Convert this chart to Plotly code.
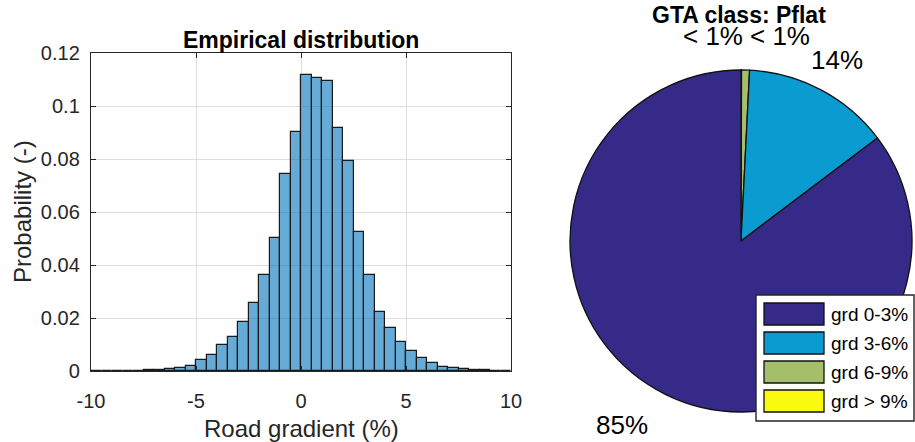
import math
import plotly.graph_objects as go

# ---------------- data ----------------
# Histogram of road gradient, 0.5 % wide bins from -10 % to +10 %
bin_centers = [-9.75, -9.25, -8.75, -8.25, -7.75, -7.25, -6.75, -6.25, -5.75, -5.25,
               -4.75, -4.25, -3.75, -3.25, -2.75, -2.25, -1.75, -1.25, -0.75, -0.25,
               0.25, 0.75, 1.25, 1.75, 2.25, 2.75, 3.25, 3.75, 4.25, 4.75,
               5.25, 5.75, 6.25, 6.75, 7.25, 7.75, 8.25, 8.75, 9.25, 9.75]
probability = [0.0, 0.0, 0.00005, 0.0001, 0.0001, 0.0003, 0.0004, 0.0008, 0.0013, 0.0020,
               0.0042, 0.0061, 0.0097, 0.0129, 0.0185, 0.0258, 0.0363, 0.0503, 0.0745, 0.0903,
               0.1116, 0.1106, 0.1094, 0.0918, 0.0793, 0.0524, 0.0363, 0.0223, 0.0163, 0.0110,
               0.0077, 0.0048, 0.0030, 0.0016, 0.0013, 0.0008, 0.0003, 0.0002, 0.0001, 0.00005]
bin_width = 0.5

x_ticks = [-10, -5, 0, 5, 10]
x_tick_labels = ["-10", "-5", "0", "5", "10"]
y_ticks = [0, 0.02, 0.04, 0.06, 0.08, 0.10, 0.12]
y_tick_labels = ["0", "0.02", "0.04", "0.06", "0.08", "0.1", "0.12"]

# GTA gradient classes (share in %)
class_labels = ["grd 0-3%", "grd 3-6%", "grd 6-9%", "grd > 9%"]
class_share = [85.3, 13.9, 0.75, 0.05]
class_colors = ["#352A87", "#0A9BD0", "#A5BE6A", "#F9FA0E"]

# ---------------- layout constants ----------------
W, H = 915, 442
FONT = "Liberation Sans, Arial, Helvetica, sans-serif"
AX_L, AX_R, AX_T, AX_B = 91, 511, 53, 371          # histogram axes box (px)
PIE_CX, PIE_CY, PIE_R = 741, 241, 171              # pie centre / radius (px)


def px_x(x):
    return x / W


def px_y(y):
    return 1 - y / H


fig = go.Figure()

fig.add_trace(go.Bar(
    x=bin_centers, y=probability, width=bin_width,
    marker=dict(color="rgba(0,114,189,0.6)", line=dict(color="#1a1a1a", width=1.2)),
    xaxis="x", yaxis="y", showlegend=False, hoverinfo="x+y",
))

# Slices run counterclockwise from 12 o'clock: feed them reversed in clockwise order
fig.add_trace(go.Pie(
    values=class_share[::-1], labels=class_labels[::-1], sort=False,
    direction="clockwise", rotation=0,
    marker=dict(colors=class_colors[::-1], line=dict(color="#111111", width=1.3)),
    textinfo="none", showlegend=False,
    domain=dict(x=[px_x(PIE_CX - PIE_R), px_x(PIE_CX + PIE_R)],
                y=[px_y(PIE_CY + PIE_R), px_y(PIE_CY - PIE_R)]),
))

axis_common = dict(
    showline=True, linecolor="#262626", linewidth=1.4, mirror="ticks",
    ticks="inside", ticklen=5, tickwidth=1.2, tickcolor="#262626",
    showgrid=True, gridcolor="#DEDEDE", gridwidth=1, zeroline=False,
    automargin=False,
    tickfont=dict(family=FONT, size=20, color="#262626"),
)

fig.update_layout(
    width=W, height=H, margin=dict(l=0, r=0, t=0, b=0, autoexpand=False),
    paper_bgcolor="white", plot_bgcolor="white",
    bargap=0,
    xaxis=dict(domain=[px_x(AX_L), px_x(AX_R)], range=[-10, 10],
               tickvals=x_ticks, ticktext=x_tick_labels, ticklabelstandoff=12,
               **axis_common),
    yaxis=dict(domain=[px_y(AX_B), px_y(AX_T)], range=[0, 0.12],
               tickvals=y_ticks, ticktext=y_tick_labels, ticklabelstandoff=6,
               **axis_common),
)

annotations = []
shapes = []

# axis titles
annotations.append(dict(text="Road gradient (%)", x=px_x((AX_L + AX_R) / 2), y=px_y(428),
                        xref="paper", yref="paper", showarrow=False, xanchor="center", yanchor="middle",
                        font=dict(family=FONT, size=24, color="#262626")))
annotations.append(dict(text="Probability (-)", x=px_x(22), y=px_y((AX_T + AX_B) / 2),
                        xref="paper", yref="paper", showarrow=False, xanchor="center", yanchor="middle",
                        textangle=-90, font=dict(family=FONT, size=24, color="#262626")))

# titles
annotations.append(dict(text="<b>Empirical distribution</b>", x=px_x((AX_L + AX_R) / 2), y=px_y(40),
                        xref="paper", yref="paper", showarrow=False, xanchor="center", yanchor="middle",
                        font=dict(family=FONT, size=23, color="black")))
annotations.append(dict(text="<b>GTA class: Pflat</b>", x=px_x(739), y=px_y(15),
                        xref="paper", yref="paper", showarrow=False, xanchor="center", yanchor="middle",
                        font=dict(family=FONT, size=23, color="black")))

# percentage labels at 1.2 radius on each slice's mid angle (counterclockwise from 12 o'clock)
total = sum(class_share)
label_anchor = ["right", "center", "left", "right"]
label_shift = [0, 0, 2, 4]
start = 0.0
for share, anchor, shift in zip(class_share, label_anchor, label_shift):
    pct = 100 * share / total
    mid = start + pct / 2
    start += pct
    ang = math.radians(-mid * 3.6)
    lx = PIE_CX + 1.2 * PIE_R * math.sin(ang) + shift
    ly = PIE_CY - 1.2 * PIE_R * math.cos(ang)
    text = "< 1%" if pct < 1 else f"{round(pct):d}%"
    annotations.append(dict(text=text, x=px_x(lx), y=px_y(ly), xref="paper", yref="paper",
                            showarrow=False, xanchor=anchor, yanchor="middle",
                            font=dict(family=FONT, size=26, color="black")))

# legend box drawn over the pie
LEG_L, LEG_T, LEG_R, LEG_B = 756, 295, 914, 421
shapes.append(dict(type="rect", xref="paper", yref="paper", layer="above",
                   x0=px_x(LEG_L), x1=px_x(LEG_R), y0=px_y(LEG_B), y1=px_y(LEG_T),
                   fillcolor="white", line=dict(color="#262626", width=1.4)))
row_h = 29
for i, (lab, col) in enumerate(zip(class_labels, class_colors)):
    yc = 314 + i * row_h
    shapes.append(dict(type="rect", xref="paper", yref="paper", layer="above",
                       x0=px_x(764), x1=px_x(824), y0=px_y(yc + 11), y1=px_y(yc - 11),
                       fillcolor=col, line=dict(color="#111111", width=1.3)))
    annotations.append(dict(text=lab, x=px_x(829), y=px_y(yc), xref="paper", yref="paper",
                            showarrow=False, xanchor="left", yanchor="middle",
                            font=dict(family=FONT, size=19, color="black")))

fig.update_layout(annotations=annotations, shapes=shapes)

fig.write_html("out.html")
